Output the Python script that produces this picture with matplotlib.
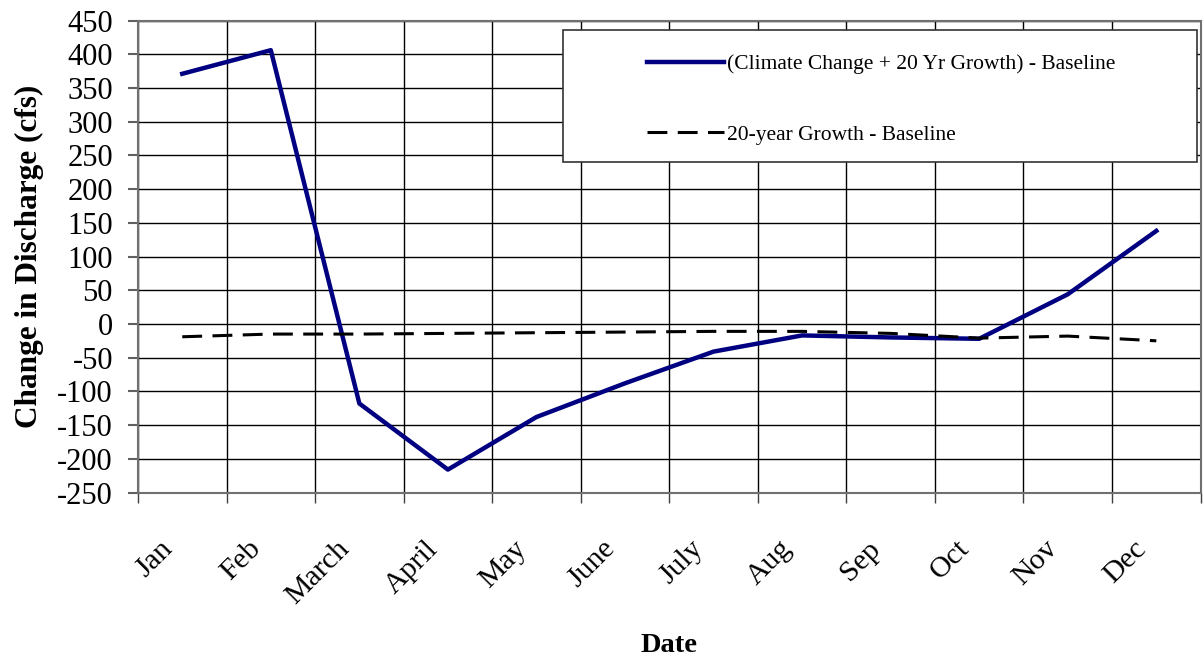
import numpy as np
import matplotlib
matplotlib.use("Agg")
import matplotlib.pyplot as plt
import matplotlib.transforms as mtransforms
from matplotlib.patches import Rectangle

months = ['Jan', 'Feb', 'March', 'April', 'May', 'June', 'July', 'Aug', 'Sep', 'Oct', 'Nov', 'Dec']
climate_growth = [371, 406, -118, -216, -138, -88, -41, -17, -20, -22, 44, 138]
growth_20yr = [-19, -15, -15, -14, -13, -12, -11, -11, -14, -21, -18, -25]

y_ticks = list(range(-250, 451, 50))

plt.rcParams['font.family'] = ['Liberation Serif', 'DejaVu Serif']

fig = plt.figure(figsize=(12.03, 6.62), dpi=100)
ax = fig.add_axes([0.1147, 0.256, 0.8833, 0.713])

x = np.arange(len(months)) + 0.5
ax.plot(x, climate_growth, color='#000080', lw=3.2,
        label='(Climate Change + 20 Yr Growth) - Baseline', zorder=3)
ax.plot(x, growth_20yr, color='black', lw=2.2, dashes=(6.5, 3.4),
        label='20-year Growth - Baseline', zorder=3)

ax.set_xlim(0, len(months))
ax.set_ylim(-250, 450)
ax.set_yticks(y_ticks)
ax.set_yticklabels([str(v) for v in y_ticks], fontsize=22)
ax.tick_params(axis='y', length=7, width=1.5, color='#606060', pad=11)

# month labels at category centres, boundary ticks as minor
ax.set_xticks(x)
ax.set_xticklabels(months, fontsize=21.5, rotation=45, ha='right', va='top',
                   rotation_mode='anchor')
ax.tick_params(axis='x', which='major', length=0, pad=31)
shift = mtransforms.ScaledTranslation(-23 / 100, 0, fig.dpi_scale_trans)
for lbl in ax.get_xticklabels():
    lbl.set_transform(lbl.get_transform() + shift)
ax.set_xticks(np.arange(len(months) + 1), minor=True)
ax.tick_params(axis='x', which='minor', length=7.5, width=1, color='#404040')

ax.grid(True, axis='y', which='major', color='black', lw=1)
ax.grid(True, axis='x', which='minor', color='black', lw=1)
ax.set_axisbelow(True)

for side, sp in ax.spines.items():
    sp.set_color('#707070')
    sp.set_linewidth(1.5)

ax.set_ylabel('Change in Discharge (cfs)', fontsize=22.5, fontweight='bold',
              ha='center', va='center')
ax.yaxis.set_label_coords(-0.102, 0.5)
ax.set_xlabel('Date', fontsize=20.5, fontweight='bold', va='center')
ax.xaxis.set_label_coords(0.5, -0.325)

# legend box
ax.add_patch(Rectangle((0.3998, 0.7), 0.5968, 0.2797, transform=ax.transAxes,
                       facecolor='white', edgecolor='#333333', lw=1.2, zorder=4))
leg = ax.legend(loc='upper left', bbox_to_anchor=(0.4788, 0.929), frameon=False,
                fontsize=15.5, handlelength=3.6, handletextpad=0.12,
                labelspacing=2.35, borderpad=0, borderaxespad=0)
leg.set_zorder(5)

fig.savefig('out.png', dpi=100)
